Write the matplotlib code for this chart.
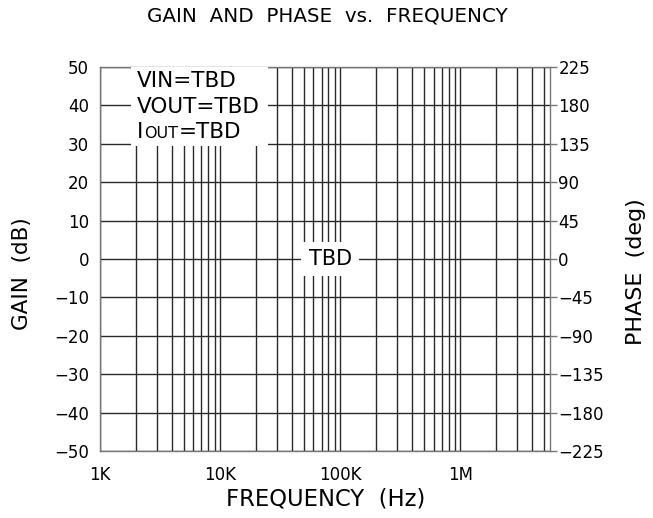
import matplotlib
matplotlib.use("Agg")
import matplotlib.pyplot as plt
from matplotlib.ticker import LogLocator, FixedLocator, NullFormatter
from matplotlib.patches import Rectangle

# ---- data ----
gain_ticks = [-50, -40, -30, -20, -10, 0, 10, 20, 30, 40, 50]
phase_ticks = [-225, -180, -135, -90, -45, 0, 45, 90, 135, 180, 225]
freq_ticks = [1e3, 1e4, 1e5, 1e6]
freq_labels = ["1K", "10K", "100K", "1M"]
freq_limits = [1e3, 5.6e6]
cond_prefix = ["VIN=TBD", "VOUT=TBD"]
cond_y = [44.8, 38.0, 31.5]
cond_x = 2.03e3
center_label = "TBD"
center_pos = (8.25e4, 0)

plt.rcParams['font.family'] = ['DejaVu Sans']

fig = plt.figure(figsize=(6.53, 5.18), dpi=100)
ax = fig.add_axes([100/653, 1-451/518, 450/653, 384/518])

ax.set_xscale('log')
ax.set_xlim(*freq_limits)
ax.set_ylim(gain_ticks[0], gain_ticks[-1])
ax.xaxis.set_major_locator(FixedLocator(freq_ticks))
ax.set_xticklabels(freq_labels)
ax.xaxis.set_minor_locator(LogLocator(base=10, subs=range(2, 10)))
ax.xaxis.set_minor_formatter(NullFormatter())
ax.set_yticks(gain_ticks)
ax.grid(True, which='both', axis='x', color='#2a2a2a', lw=1.0)
ax.grid(True, which='major', axis='y', color='#2a2a2a', lw=1.0)
ax.tick_params(axis='both', which='both', length=0, labelsize=12, colors='black')
ax.tick_params(axis='x', pad=11)
ax.tick_params(axis='y', pad=8)
for s in ax.spines.values():
    s.set_color('#777777')
    s.set_linewidth(1.0)

ax2 = ax.twinx()
ax2.set_ylim(phase_ticks[0], phase_ticks[-1])
ax2.set_yticks(phase_ticks)
ax2.tick_params(axis='y', length=5, width=1, color='#777777', labelsize=12, pad=1)
for s in ax2.spines.values():
    s.set_visible(False)

# white area behind condition text
ax.add_patch(Rectangle((1.81e3, 29.4), 2.51e4 - 1.81e3, 50 - 29.4,
                       facecolor='white', edgecolor='none', zorder=3))

fs = 15.5
ax.text(cond_x, cond_y[0], cond_prefix[0], fontsize=fs, va='baseline', ha='left', zorder=4)
ax.text(cond_x, cond_y[1], cond_prefix[1], fontsize=fs, va='baseline', ha='left', zorder=4)
t1 = ax.text(cond_x, cond_y[2], "I", fontsize=fs, va='baseline', ha='left', zorder=4)
t2 = ax.annotate("OUT", xy=(1, 0), xycoords=t1, xytext=(0.4, 0.6), textcoords='offset points',
                 fontsize=11.5, va='bottom', ha='left', zorder=4)
ax.annotate("=TBD", xy=(1, 0), xycoords=t2, xytext=(0.5, -0.6), textcoords='offset points',
            fontsize=fs, va='bottom', ha='left', zorder=4)

ax.text(center_pos[0], center_pos[1], center_label, fontsize=15, ha='center', va='center', zorder=4,
        bbox=dict(boxstyle='square,pad=0.35', facecolor='white', edgecolor='none'))

fig.text(327/653, 1-16/518, "GAIN  AND  PHASE  vs.  FREQUENCY", fontsize=14.3, ha='center', va='center')
fig.text(326/653, 1-499/518, "FREQUENCY  (Hz)", fontsize=16.3, ha='center', va='center')
fig.text(22/653, 1-274/518, "GAIN  (dB)", fontsize=15.5, ha='center', va='center', rotation=90)
fig.text(636/653, 1-272/518, "PHASE  (deg)", fontsize=16, ha='center', va='center', rotation=90)

fig.savefig("out.png", dpi=100)
